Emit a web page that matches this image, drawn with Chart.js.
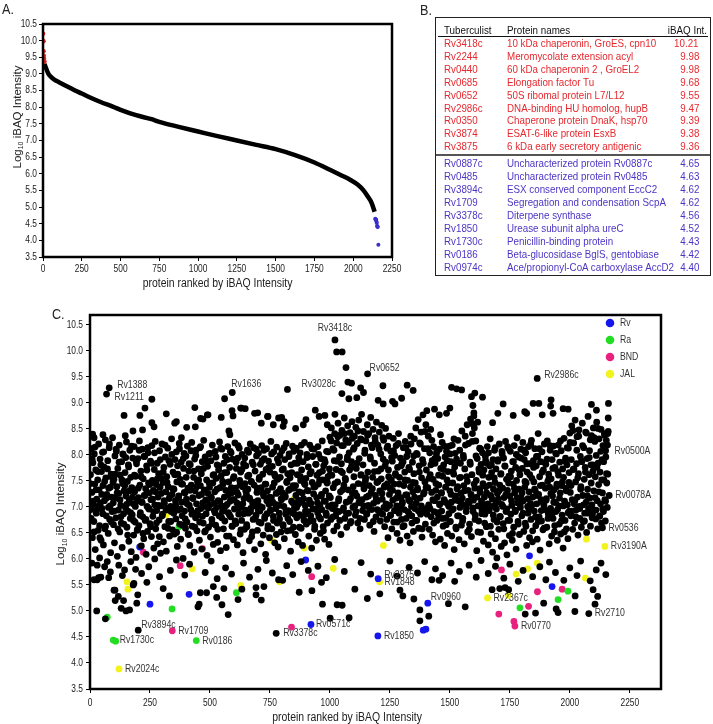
<!DOCTYPE html>
<html><head><meta charset="utf-8">
<script src="https://cdn.jsdelivr.net/npm/chart.js@4.4.1/dist/chart.umd.min.js"></script>
<style>
html,body{margin:0;padding:0;background:#fff;}
body{width:713px;height:724px;position:relative;overflow:hidden;font-family:"Liberation Sans",Arial,sans-serif;}
canvas{position:absolute;}
#ca{left:0;top:0;}
#cc{left:0;top:295px;}
.pl{position:absolute;font-size:14px;color:#222;line-height:16px;transform:scaleX(0.9);transform-origin:left center;}
.tx{position:absolute;white-space:nowrap;font-size:11px;line-height:14px;transform:scaleX(0.89);transform-origin:left center;}
.tx.r{transform-origin:right center;}
#box{position:absolute;left:435px;top:17px;width:276px;height:259px;border:1.5px solid #222;box-sizing:border-box;}
.hl{position:absolute;}
</style></head>
<body>
<canvas id="ca" width="430" height="295"></canvas>
<canvas id="cc" width="713" height="429"></canvas>
<div class="pl" style="left:2px;top:1px">A.</div>
<div class="pl" style="left:420px;top:2px">B.</div>
<div class="pl" style="left:52px;top:306px">C.</div>
<div id="box"></div>
<div id="tbl"></div>
<script>
// ---------------- DATA ----------------
// Panel A: ranked curve
const curveRank = [10,20,35,50,75,100,150,200,250,300,375,450,500,600,700,750,875,1000,1125,1250,1375,1500,1625,1750,1850,1925,1980,2030,2065,2095,2119,2138];
const curveVal  = [9.30,9.17,9.00,8.92,8.82,8.76,8.64,8.52,8.41,8.30,8.15,8.02,7.92,7.76,7.64,7.56,7.41,7.27,7.13,7.00,6.87,6.74,6.56,6.34,6.12,5.95,5.82,5.67,5.51,5.31,5.12,4.86];
const topRank = [1,2,3,4,5,6,7,8,9];
const topVal  = [10.21,9.98,9.98,9.68,9.55,9.47,9.39,9.38,9.36];
const botRank = [2142,2144,2146,2148,2150,2152,2154,2156,2158,2162];
const botVal  = [4.65,4.63,4.62,4.62,4.56,4.52,4.43,4.42,4.40,3.87];
const xTicksA = [0,250,500,750,1000,1250,1500,1750,2000,2250];
const yTicks = [3.5,4.0,4.5,5.0,5.5,6.0,6.5,7.0,7.5,8.0,8.5,9.0,9.5,10.0,10.5];

// Panel B: table
const topIds = ['Rv3418c','Rv2244','Rv0440','Rv0685','Rv0652','Rv2986c','Rv0350','Rv3874','Rv3875'];
const topNames = ['10 kDa chaperonin, GroES, cpn10','Meromycolate extension acyl','60 kDa chaperonin 2 , GroEL2','Elongation factor Tu','50S ribomal protein L7/L12','DNA-binding HU homolog, hupB','Chaperone protein DnaK, hsp70','ESAT-6-like protein EsxB','6 kDa early secretory antigenic'];
const topInts = ['10.21','9.98','9.98','9.68','9.55','9.47','9.39','9.38','9.36'];
const botIds = ['Rv0887c','Rv0485','Rv3894c','Rv1709','Rv3378c','Rv1850','Rv1730c','Rv0186','Rv0974c'];
const botNames = ['Uncharacterized protein Rv0887c','Uncharacterized protein Rv0485','ESX conserved component EccC2','Segregation and condensation ScpA','Diterpene synthase','Urease subunit alpha ureC','Penicillin-binding protein','Beta-glucosidase BglS, gentobiase','Ace/propionyl-CoA carboxylase AccD2'];
const botInts = ['4.65','4.63','4.62','4.62','4.56','4.52','4.43','4.42','4.40'];
const tableHeads = ['Tuberculist','Protein names','iBAQ Int.'];

// Panel C: scatter. cloudY: proteins at ranks 0,2,4,...; cloudY2: ranks 1,5,9,...
const rankStep = 2;
const cloudY = [
8.38,7.62,6.95,8.12,7.28,6.41,7.85,7.05,6.72,8.02,7.44,6.18,7.71,6.88,7.15,5.88,7.52,6.55,8.21,7.33,6.64,7.92,7.08,6.36,7.68,
6.97,8.05,7.41,6.27,7.77,7.12,6.58,8.29,7.56,6.83,7.24,5.95,7.89,6.49,7.36,8.14,6.76,7.02,6.12,7.63,7.19,6.91,8.33,7.47,6.66,
7.53,6.31,7.98,7.17,6.79,8.07,7.39,6.05,7.74,6.94,7.26,8.19,6.52,7.61,7.03,6.69,7.87,6.22,7.45,8.01,6.87,7.31,5.79,7.66,6.99,
7.21,8.25,6.61,7.49,6.92,7.81,6.34,7.13,8.09,6.78,7.57,6.14,7.37,6.85,7.94,7.06,6.46,8.16,7.29,6.71,7.59,6.03,7.83,7.11,6.57,
7.93,7.18,6.64,8.27,7.42,6.89,7.69,6.25,7.09,8.11,6.81,7.54,6.39,7.22,7.97,6.74,7.35,6.09,7.79,7.01,6.53,8.04,7.46,6.96,7.27,
6.68,7.88,7.14,6.43,8.18,7.51,6.82,7.32,6.21,7.72,7.04,8.26,6.58,7.43,6.93,7.84,6.29,7.19,7.64,6.75,8.08,7.38,6.11,7.02,7.55,
8.21,6.86,7.47,6.33,7.76,7.07,6.62,7.96,7.29,6.15,7.58,6.97,8.13,7.39,6.72,7.16,6.44,7.82,7.01,6.91,8.31,7.24,6.56,7.67,6.99,
7.34,6.48,7.91,7.12,6.77,8.06,7.48,6.24,7.63,6.94,7.21,8.22,6.67,7.53,6.38,7.86,7.09,6.83,7.44,6.01,7.74,8.03,6.92,7.27,6.59,
7.98,7.15,6.71,8.17,7.36,6.47,7.69,7.03,6.26,7.81,6.95,7.42,8.24,6.63,7.18,6.88,7.57,6.13,7.92,7.31,6.79,8.09,7.06,6.54,7.49,
6.84,7.73,7.22,6.36,8.14,7.41,6.97,7.64,6.19,7.87,7.08,6.69,8.28,7.33,6.52,7.96,7.13,6.87,7.52,6.07,7.78,7.26,6.61,8.02,7.38,
7.04,6.42,7.89,7.17,6.76,8.19,7.46,6.28,7.62,6.93,7.29,8.07,6.65,7.55,6.99,7.81,6.32,7.12,7.71,6.83,8.25,7.37,6.16,7.59,7.02,
8.11,6.91,7.43,6.58,7.84,7.19,6.73,7.97,7.32,6.22,7.66,7.05,8.16,6.89,7.48,6.44,7.76,7.11,6.81,8.04,7.27,6.63,7.92,7.14,6.37,
7.58,6.96,8.23,7.36,6.68,7.74,7.08,6.27,7.94,7.23,6.86,8.13,7.51,6.48,7.67,7.01,6.74,8.01,7.39,6.12,7.83,7.16,6.57,7.45,6.94,
7.79,7.24,6.62,8.09,7.34,6.88,7.61,6.35,7.15,8.21,6.97,7.49,6.43,7.86,7.07,6.76,8.14,7.42,6.18,7.69,7.02,6.84,7.98,7.28,6.55,
7.12,8.03,6.71,7.57,6.92,7.82,6.29,7.37,8.18,6.99,7.63,6.46,7.21,7.93,6.78,7.44,6.09,7.72,8.12,6.87,7.31,6.64,7.88,7.05,6.41,
7.67,6.94,8.26,7.18,6.58,7.78,7.09,6.82,8.06,7.46,6.31,7.59,6.97,7.26,8.15,6.69,7.53,6.23,7.85,7.03,6.77,7.99,7.35,6.52,7.14,
8.08,7.27,6.66,7.73,7.01,6.39,7.91,7.19,6.86,8.22,7.47,6.54,7.64,6.93,7.32,8.02,6.72,7.56,6.15,7.81,7.11,6.89,8.17,7.41,6.61,
7.36,6.98,7.84,6.47,7.22,8.13,6.79,7.62,7.04,6.33,7.95,7.29,6.85,8.04,7.51,6.59,7.71,7.09,6.26,7.87,7.16,6.74,8.24,7.43,6.92,
7.55,6.67,8.01,7.32,6.91,7.77,6.44,7.13,8.19,7.06,6.83,7.68,6.21,7.47,7.97,6.73,7.25,8.11,6.57,7.39,6.96,7.82,6.36,7.61,7.08,
8.16,7.44,6.81,7.66,7.03,6.49,7.93,7.21,6.95,8.27,7.52,6.62,7.79,7.11,6.38,7.86,7.31,6.88,8.07,7.46,6.69,7.58,7.01,6.28,7.73,
8.34,7.18,6.76,8.52,7.61,6.97,8.12,7.37,6.54,7.89,8.41,7.04,6.83,7.72,8.23,6.63,7.48,8.61,7.12,6.91,7.96,8.38,7.29,6.47,7.83,
8.47,7.66,6.94,8.18,7.42,8.71,6.78,7.55,8.29,7.09,6.61,7.91,8.56,7.33,6.88,8.04,7.71,8.43,7.16,6.72,7.87,8.64,7.26,6.99,8.11,
7.58,8.36,7.02,6.84,8.53,7.74,7.21,8.22,6.69,7.45,8.67,7.93,7.08,6.58,8.31,7.62,8.78,7.14,6.93,7.81,8.45,7.35,6.76,8.09,7.51,
8.27,7.19,6.87,8.58,7.67,7.03,8.41,7.41,6.65,7.96,8.72,7.28,6.95,8.14,7.57,8.49,7.07,6.53,7.84,8.33,7.22,6.81,8.63,7.47,7.11,
8.19,7.69,6.92,8.44,7.31,6.73,8.02,7.54,8.57,7.15,6.86,7.92,8.28,7.38,6.62,7.79,8.51,7.06,6.97,8.13,7.45,6.41,7.71,8.36,7.24,
7.36,6.84,8.07,7.52,6.58,7.88,7.13,8.32,6.71,7.44,7.99,6.93,7.61,8.18,7.02,6.49,7.76,7.27,8.41,6.88,7.57,6.36,7.94,7.18,6.76,
7.83,7.09,6.62,8.14,7.41,6.95,7.67,8.26,7.23,6.78,7.97,6.44,7.51,8.06,7.14,6.87,7.72,6.31,7.38,8.21,7.01,6.69,7.86,7.29,6.53,
7.64,8.31,6.97,7.46,8.52,7.08,6.74,8.01,7.33,8.68,6.59,7.79,8.23,7.17,6.86,8.44,7.56,6.42,7.91,8.77,7.25,6.93,8.12,7.48,6.67,
8.58,7.71,8.85,6.98,7.37,8.36,7.04,6.57,8.04,7.62,8.49,6.81,7.28,7.89,6.46,7.53,8.16,6.91,7.12,7.84,6.33,7.45,8.02,6.74,7.19,
7.93,6.85,7.42,8.11,7.06,6.38,7.74,7.27,6.92,8.24,7.59,6.63,7.81,7.14,6.26,7.96,7.38,6.79,8.07,7.52,6.49,7.68,7.03,6.87,8.17,
7.31,6.72,7.87,7.09,6.44,8.19,7.46,6.96,7.63,6.18,7.77,8.03,7.21,6.58,7.92,7.35,6.83,8.28,7.12,6.37,7.56,6.99,7.84,7.26,6.65,
8.46,7.17,6.78,7.99,7.41,6.29,7.73,8.36,7.04,6.91,7.58,8.58,6.52,7.32,8.22,7.08,6.67,7.86,8.69,7.24,6.43,7.62,8.41,6.98,7.13,
8.81,8.52,7.36,6.84,8.27,7.51,6.16,7.93,8.63,7.02,6.73,7.67,8.13,7.28,6.51,7.82,7.11,6.94,8.04,7.45,6.34,7.71,7.19,6.86,7.97,
7.39,6.62,7.84,8.16,7.06,6.27,7.57,6.93,7.79,8.31,7.22,6.48,7.66,7.01,6.13,7.91,7.34,6.76,8.09,7.47,6.39,7.73,6.96,6.02,7.26,
7.88,7.15,6.57,8.21,7.42,6.81,7.63,6.24,7.05,8.02,7.36,6.68,7.94,7.18,6.31,7.78,8.26,6.91,7.53,6.08,7.32,6.74,8.13,7.59,6.45,
7.21,8.07,6.86,7.69,7.03,6.36,7.87,7.44,6.61,8.18,7.27,6.94,7.76,6.19,7.51,8.33,7.08,6.72,7.96,7.34,6.47,7.62,6.99,8.11,7.16,
6.83,7.74,8.24,7.12,6.53,7.91,7.38,6.69,8.04,7.46,6.26,7.67,7.01,6.88,8.16,7.29,6.41,7.83,7.07,6.76,8.28,7.55,6.33,7.19,7.89,
7.48,6.92,8.12,7.31,6.64,7.79,7.06,6.38,7.97,8.41,7.24,6.81,7.58,6.17,7.87,7.14,6.73,8.06,7.42,6.56,7.71,7.03,8.21,6.95,7.36,
7.82,7.16,6.61,8.27,7.49,6.87,7.63,6.29,7.38,8.09,6.97,7.54,6.44,7.91,7.21,6.78,8.17,7.33,6.52,7.76,7.09,6.91,8.02,7.44,6.36,
7.68,8.19,7.02,6.67,7.86,7.27,6.48,8.08,7.41,6.84,7.73,6.21,7.57,8.32,7.11,6.74,7.94,7.36,6.58,7.81,7.04,6.39,8.13,7.47,6.92,
8.42,7.28,6.83,7.91,8.56,7.14,6.57,7.72,8.23,7.06,6.69,8.67,7.48,6.94,7.83,8.35,7.19,6.46,7.64,8.48,7.01,6.78,7.97,7.39,6.61,
7.87,8.61,7.22,6.72,8.14,7.53,6.88,7.76,8.44,7.09,6.51,7.93,7.34,8.74,6.97,7.62,8.08,7.17,6.63,7.81,8.37,7.04,6.86,7.69,8.52,
7.31,6.94,8.26,7.58,6.77,7.99,8.63,7.12,6.58,7.84,7.43,8.31,6.82,7.67,7.06,8.49,6.69,7.91,7.27,8.18,6.91,7.52,8.41,7.14,6.73,
7.96,8.28,7.46,6.99,7.63,8.45];
const rankStep2 = 4, rankOffset2 = 1;
const cloudY2 = [
7.45,6.78,7.92,7.11,6.52,8.15,7.33,6.95,7.68,7.02,6.41,7.81,7.24,6.87,8.06,7.49,6.63,7.17,7.73,6.99,8.21,7.38,6.71,7.56,7.08,
6.92,7.63,8.11,7.27,6.58,7.86,7.14,6.81,7.52,8.02,6.67,7.41,7.95,7.05,6.46,7.77,7.31,6.89,8.17,7.19,6.74,7.61,7.01,7.88,6.55,
7.36,8.09,6.84,7.58,7.09,6.49,7.97,7.22,6.76,7.71,8.14,6.97,7.43,6.62,7.84,7.15,6.91,8.04,7.29,6.69,7.54,7.03,6.43,7.91,7.26,
6.83,7.67,7.12,8.19,6.94,7.47,6.59,7.89,7.21,6.72,8.01,7.35,6.88,7.62,7.04,6.51,7.79,7.18,8.12,6.96,7.44,6.65,7.93,7.28,6.77,
7.57,7.06,6.48,7.83,7.32,8.08,6.86,7.16,7.69,6.61,7.99,7.39,6.93,7.52,6.71,8.16,7.24,6.82,7.74,7.01,6.54,7.87,7.13,6.98,7.46,
8.03,7.19,6.68,7.61,7.07,6.89,7.96,7.34,6.57,7.78,7.11,8.13,6.79,7.49,6.95,7.66,7.02,6.44,7.91,7.23,6.85,8.07,7.37,6.63,7.55,
7.14,6.73,7.86,7.28,8.18,6.97,7.42,6.56,7.72,7.06,6.87,7.94,7.31,6.66,7.59,8.05,7.17,6.91,7.48,6.52,7.81,7.09,6.78,8.11,7.36,
6.94,7.53,7.01,6.69,7.89,7.26,8.09,6.82,7.44,7.12,6.58,7.76,7.19,6.93,8.02,7.38,6.74,7.63,7.05,6.47,7.92,7.29,6.88,7.57,7.16,
7.71,6.64,8.14,7.22,6.92,7.49,6.78,7.97,7.34,6.55,7.66,7.08,8.07,6.86,7.41,6.99,7.84,7.13,6.61,7.58,8.19,7.27,6.81,7.46,7.03,
6.87,7.95,7.31,6.72,7.64,7.07,8.12,6.96,7.38,6.63,7.82,7.18,6.89,8.01,7.52,6.77,7.24,7.69,6.54,7.91,7.11,6.84,7.47,8.06,7.21,
7.62,8.27,7.04,6.81,8.09,7.45,6.93,7.88,8.35,7.16,6.74,7.69,8.18,7.33,6.98,8.41,7.52,6.87,7.96,8.24,7.11,6.69,7.77,8.32,7.39,
8.14,7.27,6.91,7.84,8.46,7.09,6.78,7.61,8.29,7.43,7.02,8.03,7.56,6.86,8.38,7.21,6.97,7.92,8.19,7.35,6.72,7.68,8.26,7.14,6.95,
7.49,8.11,6.89,7.73,7.26,8.33,6.99,7.41,7.86,6.76,8.17,7.58,7.03,6.84,7.95,7.32,8.08,6.93,7.64,7.17,6.71,8.22,7.44,6.97,7.79,
7.06,7.87,6.64,7.52,8.14,7.23,6.91,7.76,7.11,8.36,6.83,7.47,7.98,7.19,6.74,8.03,7.36,6.92,7.67,8.21,7.02,6.58,7.84,7.28,8.45,
7.38,6.86,8.12,7.55,6.97,7.81,8.28,7.14,6.69,7.93,7.32,8.06,6.89,7.61,7.04,8.39,7.27,6.78,7.72,8.17,7.09,6.66,7.89,7.46,7.01,
8.02,7.24,6.94,7.68,8.31,7.13,6.61,7.85,7.39,6.83,8.09,7.57,7.06,6.73,7.94,7.31,8.19,6.98,7.49,7.11,6.57,7.82,7.22,8.26,6.91,
7.44,6.76,7.98,7.19,6.52,7.73,7.35,8.11,6.87,7.61,7.04,6.69,7.89,7.27,6.95,8.04,7.42,6.63,7.81,7.15,6.84,7.56,8.14,7.08,6.71,
7.91,7.31,6.82,7.64,8.07,7.01,6.58,7.79,7.23,6.96,8.16,7.46,6.74,7.58,7.12,6.49,7.87,7.36,6.91,8.01,7.18,6.67,7.71,7.05,7.94,
7.27,6.88,8.09,7.49,6.63,7.83,7.16,6.97,7.62,8.21,7.03,6.54,7.76,7.34,6.81,7.97,7.22,6.72,8.12,7.41,6.93,7.67,7.08,6.59,7.85,
7.13,7.92,6.78,7.55,8.18,7.26,6.86,7.74,7.09,6.64,8.03,7.39,6.95,7.61,7.17,8.27,6.73,7.48,7.02,6.52,7.88,7.31,8.14,6.89,7.66,
8.24,7.41,6.92,8.47,7.73,7.12,6.81,8.09,7.56,8.36,6.97,7.34,7.89,8.18,7.04,6.73,7.67,8.42,7.21,6.88,7.95,8.29,7.46,6.79,7.81,
8.33,7.18,6.94,7.76,8.51,7.29,6.83,8.07,7.52,6.96,7.87,8.38,7.11,7.64,8.19];
const blackNamed = [[1021,10.21],[1028,9.98],[1051,9.98],[1067,9.68],[1157,9.56],[1864,9.47],[80,9.29],[69,9.17],[593,9.2],[823,9.26],[2149,8.08],[2164,7.22],[2136,6.6],[2079,4.95],[201,4.63],[776,4.57],[1075,9.40],[1090,9.38],[258,9.07],[561,9.08],[1050,9.18],[1079,9.08],[1112,9.1]];
const blackHigh = [[142,8.76],[147,8.37],[54,8.39],[11,8.40],[17,8.33],[229,8.9],[208,8.76],[219,8.48],[179,8.46],[258,8.62],[267,8.54],[318,8.79],[353,8.61],[437,8.91],[403,8.53],[439,8.54],[489,8.77],[461,8.70],[547,8.72],[592,8.85],[596,8.75],[628,8.9],[647,8.89],[579,8.46],[583,8.39],[699,8.81],[740,8.74],[764,8.58],[799,8.72],[810,8.64],[805,8.55],[857,8.51],[889,8.58],[900,8.68],[939,8.86],[955,8.74],[979,8.76],[989,8.58],[1021,8.78],[1128,9.29],[1221,9.33],[1299,9.09],[1322,9.34],[1347,9.24],[1507,9.3],[1528,9.27],[1549,9.25],[1604,9.19],[1590,9.12],[1636,9.11],[1722,8.98],[1847,8.99],[1871,8.99],[1922,9.06],[1920,8.94],[1993,8.88],[1972,8.89],[2090,8.97],[2111,8.86],[1764,8.76],[1812,8.83],[1885,8.77],[1930,8.8],[2161,8.99],[2160,8.71],[2158,8.41],[1140,9.2],[1201,9.05],[1261,9.03],[1271,8.98],[1222,8.98],[1436,8.88],[1456,8.77],[1486,8.8],[1500,8.9],[1596,8.95],[1600,8.75],[1594,8.6],[1678,8.62],[1700,8.8],[1820,8.8],[360,8.64],[381,8.33],[471,8.69],[492,8.77],[631,8.9],[686,8.8],[714,8.61],[742,8.74],[786,8.71]];
const blackMid = [[8,5.92],[40,6.02],[85,5.75],[120,5.88],[135,5.68],[170,5.95],[215,5.72],[245,5.85],[270,6.0],[290,5.66],[335,5.78],[360,5.98],[395,5.69],[415,5.9],[480,5.74],[505,5.96],[530,5.62],[565,5.83],[590,5.71],[640,5.92],[665,5.65],[700,5.8],[735,5.97],[760,5.73],[820,5.87],[845,5.7],[880,5.95],[910,5.78],[950,5.86],[985,5.64],[1020,5.99],[1060,5.76],[1130,5.93],[1170,5.71],[1250,5.96],[1280,5.67],[1330,5.84],[1365,5.73],[1395,5.95],[1425,5.6],[1440,5.81],[1470,5.68],[1505,5.92],[1540,5.76],[1580,5.88],[1610,5.65],[1630,5.97],[1660,5.72],[1690,5.86],[1725,5.63],[1750,5.9],[1785,5.57],[1805,5.78],[1845,5.66],[1875,5.85],[1900,5.6],[1915,5.94],[1940,5.74],[1975,5.59],[2000,5.83],[2030,5.68],[2045,5.96],[2085,5.58],[2110,5.79],[2130,5.92],[2150,5.7]];
const blackLow = [[28,5.0],[64,4.85],[30,5.6],[45,5.65],[100,5.4],[105,5.2],[140,5.2],[150,5.0],[165,5.02],[195,5.15],[180,5.5],[190,5.8],[17,5.6],[36,5.64],[78,5.64],[61,5.85],[104,5.4],[118,5.28],[130,5.05],[183,5.53],[199,5.31],[237,5.55],[305,5.43],[331,5.29],[450,5.08],[455,5.13],[460,5.35],[486,5.35],[514,5.47],[528,5.26],[550,5.12],[576,4.93],[558,5.43],[617,5.22],[633,5.42],[692,5.45],[692,5.31],[714,5.21],[725,5.47],[786,5.6],[803,5.59],[872,5.36],[925,5.39],[965,5.55],[969,5.13],[1001,4.86],[1051,5.11],[1030,5.12],[1080,4.87],[1104,5.42],[1156,5.24],[1208,5.33],[1304,5.29],[1292,5.4],[1350,5.23],[1375,5.02],[1375,4.81],[1412,4.9],[1455,5.59],[1494,5.14],[1520,5.57],[1564,5.08],[1676,5.41],[1708,5.43],[1730,5.45],[1745,5.41],[1814,4.94],[1857,4.96],[1891,5.15],[1943,5.04],[1951,4.97],[2021,4.99],[2022,5.29],[2105,5.13],[2116,5.28],[2097,5.41]];
const rvPts  = [[207,6.23],[250,5.13],[413,5.32],[899,5.98],[921,4.74],[1200,4.52],[1201,5.62],[1408,5.15],[1389,4.63],[1400,4.65],[1832,6.06],[1926,5.47]];
const raPts  = [[72,4.88],[97,4.44],[107,4.42],[342,5.04],[371,6.62],[443,4.43],[610,5.35],[1792,5.06],[1951,5.22],[1992,5.38]];
const bndPts = [[222,6.13],[343,4.62],[376,5.87],[469,6.20],[840,4.69],[924,5.66],[1704,4.94],[1715,5.79],[1767,4.80],[1771,4.71],[1828,5.09],[1865,5.37],[1968,5.42]];
const jalPts = [[121,3.885],[154,5.56],[158,5.42],[318,6.85],[426,5.81],[628,5.49],[757,6.36],[790,5.56],[849,7.15],[893,6.21],[1014,5.82],[1207,5.56],[1223,6.26],[1657,5.25],[1743,5.30],[1776,5.71],[1824,5.81],[1864,5.92],[2065,5.63],[2069,6.38],[2146,6.24]];
const groupNames = ['Rv','Ra','BND','JAL'];
const labelNames = ['Rv3418c','Rv1388','Rv1211','Rv1636','Rv3028c','Rv0652','Rv2986c','Rv0500A','Rv0078A','Rv0536','Rv3190A','Rv2875','Rv1848','Rv0960','Rv2367c','Rv2710','Rv0770','Rv1850','Rv3894c','Rv1709','Rv1730c','Rv0186','Rv2024c','Rv3378c','Rv0571c'];
const labelRank = [1021,80,69,593,823,1157,1864,2149,2164,2136,2146,1201,1207,1408,1657,2079,1771,1200,201,343,107,443,121,776,921];
const labelVal  = [10.21,9.29,9.17,9.2,9.26,9.56,9.47,8.08,7.22,6.6,6.24,5.62,5.56,5.15,5.25,4.95,4.71,4.52,4.63,4.62,4.42,4.43,3.885,4.57,4.74];
const xTicksC = [0,250,500,750,1000,1250,1500,1750,2000,2250];

// ---------------- LAYOUT / STYLE ----------------
const FONT = '"Liberation Sans",Arial,sans-serif';
const labelDx = [0,8,8,-1,14,2,7,9,6,6,6,6,5,3,6,6,6,6,3,6,4,6,6,7,5];
const labelDy = [-12,-3,3,-8,-5,-6,-3,0,0,0,0,-4,0,-6,0,0,0,0,-5,0,-1,0,0,0,0];
const groupColors = ['#1515ee','#22dd22','#e8207e','#f2f21c'];
const SQ_TICK = 0.8, SQ_LABEL = 0.83, SQ_TITLE = 0.87;
Chart.defaults.font.family = FONT;
Chart.defaults.color = '#222';

// horizontal squeeze of canvas text (the reference figure is horizontally compressed)
function squeezable(ctx){
  if (ctx.__orig) return;
  const orig = ctx.fillText;
  ctx.__orig = orig; ctx.__sq = 1;
  ctx.fillText = function(t, x, y){
    const f = this.__sq || 1;
    if (f === 1) return orig.call(this, t, x, y);
    this.save(); this.translate(x, y); this.scale(f, 1); orig.call(this, t, 0, 0); this.restore();
  };
}
const squeezePlugin = { id:'squeeze', beforeDraw(c){ squeezable(c.ctx); c.ctx.__sq = SQ_TICK; }, afterDraw(c){ c.ctx.__sq = 1; } };

function toPts(pairs){ return pairs.map(p => ({x:p[0], y:p[1]})); }
const framePlugin = { id:'frame', afterDatasetsDraw(c){ const a=c.chartArea, ctx=c.ctx; ctx.save(); ctx.lineWidth=2.5; ctx.strokeStyle='#000'; ctx.strokeRect(a.left,a.top,a.right-a.left,a.bottom-a.top); ctx.restore(); } };
function yTitle(ctx, cx, cy, size){
  const prev = ctx.__sq; ctx.__sq = 1;
  ctx.save(); ctx.translate(cx, cy); ctx.rotate(-Math.PI/2);
  const f1 = size+'px '+FONT, f2 = Math.round(size*0.62)+'px '+FONT;
  ctx.font=f1; const w1=ctx.measureText('Log').width, w3=ctx.measureText(' iBAQ Intensity').width;
  ctx.font=f2; const w2=ctx.measureText('10').width;
  let x=-(w1+w2+w3)/2; ctx.textBaseline='middle'; ctx.fillStyle='#222'; ctx.textAlign='left';
  ctx.font=f1; ctx.fillText('Log',x,0); x+=w1;
  ctx.font=f2; ctx.fillText('10',x,size*0.35); x+=w2;
  ctx.font=f1; ctx.fillText(' iBAQ Intensity',x,0);
  ctx.restore(); ctx.__sq = prev;
}
function xTitle(ctx, cx, cy, size){
  const prev = ctx.__sq; ctx.__sq = SQ_TITLE;
  ctx.save(); ctx.font=size+'px '+FONT; ctx.fillStyle='#222'; ctx.textAlign='center'; ctx.textBaseline='middle';
  ctx.fillText('protein ranked by iBAQ Intensity', cx, cy); ctx.restore(); ctx.__sq = prev;
}
function axisOpts(ticksArr, min, max, isY, pad, fitSize){
  return {
    type:'linear', min:min, max:max,
    afterBuildTicks: s => { s.ticks = ticksArr.map(v => ({value:v})); },
    afterFit: s => { if(isY) s.width = fitSize; else s.height = fitSize; },
    grid:{display:true, drawOnChartArea:false, drawTicks:true, tickLength:4, color:'#000', lineWidth:1},
    border:{display:false},
    ticks:{autoSkip:false, maxRotation:0, padding:pad, color:'#222', font:{size:10.5},
      callback: v => isY ? Number(v).toFixed(1) : String(v)}
  };
}

// ---------------- PANEL A ----------------
new Chart(document.getElementById('ca'), {
  type:'scatter',
  data:{datasets:[
    {data: curveRank.map((r,i)=>({x:r,y:curveVal[i]})), showLine:true, borderColor:'#000', borderWidth:4.5, pointRadius:0, cubicInterpolationMode:'monotone', order:3},
    {data: topRank.map((r,i)=>({x:r,y:topVal[i]})), pointRadius:2.2, pointBackgroundColor:'#e82020', pointBorderWidth:0, order:1},
    {data: botRank.map((r,i)=>({x:r,y:botVal[i]})), pointRadius:2, pointBackgroundColor:'#3a2fc8', pointBorderWidth:0, order:2}
  ]},
  options:{
    responsive:false, animation:false, events:[],
    layout:{padding:{left:0, top:24, right:38, bottom:0}},
    plugins:{legend:{display:false}, tooltip:{enabled:false}},
    scales:{ x: axisOpts(xTicksA, 0, 2250, false, 2, 38), y: axisOpts(yTicks, 3.5, 10.5, true, 2, 43) }
  },
  plugins:[squeezePlugin, framePlugin, {id:'titlesA', afterDraw(c){ const a=c.chartArea; xTitle(c.ctx,(a.left+a.right)/2, 284, 12); yTitle(c.ctx, 17.5, 117, 11.5); }}]
});

// ---------------- PANEL C ----------------
const cloudPts = cloudY.map((v,i)=>({x:i*rankStep, y:v})).concat(cloudY2.map((v,i)=>({x:rankOffset2+i*rankStep2, y:v})));
const blackAll = cloudPts.concat(toPts(blackHigh), toPts(blackMid), toPts(blackLow), toPts(blackNamed));
const groups = [rvPts, raPts, bndPts, jalPts];
const labelPlugin = { id:'labels', afterDatasetsDraw(c){
  const ctx=c.ctx, xs=c.scales.x, ys=c.scales.y; const prev=ctx.__sq; ctx.__sq = SQ_LABEL;
  ctx.save(); ctx.font='10.5px '+FONT; ctx.fillStyle='#333'; ctx.textBaseline='middle';
  labelNames.forEach((n,i)=>{ ctx.textAlign = i===0 ? 'center' : 'left';
    ctx.fillText(n, xs.getPixelForValue(labelRank[i])+labelDx[i], ys.getPixelForValue(labelVal[i])+labelDy[i]); });
  const a=c.chartArea;
  groupNames.forEach((n,i)=>{ const cy=a.top+8+17*i; ctx.beginPath(); ctx.fillStyle=groupColors[i]; ctx.arc(a.right-51, cy, 4.3, 0, Math.PI*2); ctx.fill();
    ctx.fillStyle='#333'; ctx.textAlign='left'; ctx.fillText(n, a.right-41, cy); });
  ctx.restore(); ctx.__sq = prev; } };
new Chart(document.getElementById('cc'), {
  type:'scatter',
  data:{datasets:[
    {label:'black', data: blackAll, pointRadius:3.4, pointBackgroundColor:'#000', pointBorderWidth:0},
  ].concat(groups.map((g,i)=>({label:groupNames[i], data: toPts(g), pointRadius:3.4, pointBackgroundColor:groupColors[i], pointBorderWidth:0})))},
  options:{
    responsive:false, animation:false, events:[],
    layout:{padding:{left:0, top:20, right:52, bottom:0}},
    plugins:{legend:{display:false}, tooltip:{enabled:false}},
    scales:{ x: axisOpts(xTicksC, 0, 2380, false, 4, 35), y: axisOpts(yTicks, 3.5, 10.69, true, 3, 90) }
  },
  plugins:[squeezePlugin, framePlugin, labelPlugin, {id:'titlesC', afterDraw(c){ xTitle(c.ctx, 347, 423, 12); yTitle(c.ctx, 61, 219, 11.5); }}]
});

// ---------------- PANEL B (table) ----------------
const tbl = document.getElementById('tbl');
function addText(t, cy, color, left, right){
  const d=document.createElement('div'); d.className='tx'+(left===null?' r':''); d.textContent=t; d.style.color=color; d.style.top=(cy-7)+'px';
  if(left!==null) d.style.left=left+'px'; else d.style.right=(713-right)+'px';
  tbl.appendChild(d);
}
function addLine(x1,x2,y,w,col){ const d=document.createElement('div'); d.className='hl'; d.style.left=x1+'px'; d.style.width=(x2-x1)+'px'; d.style.top=(y-w/2)+'px'; d.style.height=w+'px'; d.style.background=col; tbl.appendChild(d); }
addText(tableHeads[0], 30, '#111', 444, null);
addText(tableHeads[1], 30, '#111', 507, null);
addText(tableHeads[2], 30, '#111', null, 707);
addLine(438, 708, 36.5, 1, '#111');
const RED='#e5282e', BLUE='#4c35c4';
topIds.forEach((id,k)=>{ const cy=43+12.9*k; addText(id,cy,RED,444,null); addText(topNames[k],cy,RED,507,null); addText(topInts[k],cy,RED,null,699); });
addLine(436, 710, 155, 2, '#555');
botIds.forEach((id,k)=>{ const cy=163+13*k; addText(id,cy,BLUE,444,null); addText(botNames[k],cy,BLUE,507,null); addText(botInts[k],cy,BLUE,null,699); });
</script>
</body></html>
